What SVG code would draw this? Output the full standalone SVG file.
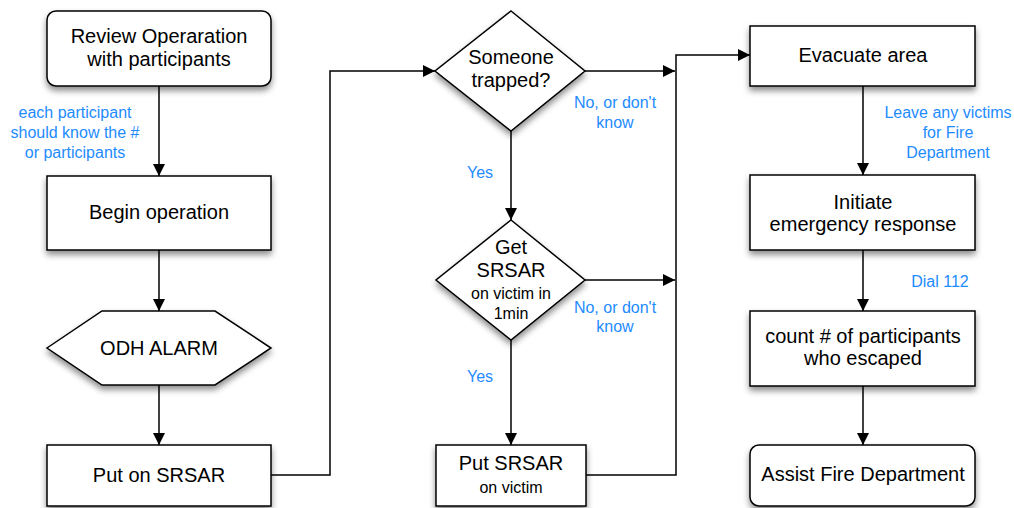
<svg xmlns="http://www.w3.org/2000/svg" width="1014" height="508" viewBox="0 0 1014 508">
<defs>
<filter id="sh" x="-20%" y="-20%" width="140%" height="160%">
<feDropShadow dx="0" dy="4" stdDeviation="3" flood-color="#000" flood-opacity="0.45"/>
</filter>
<marker id="ah" markerWidth="12" markerHeight="12" viewBox="0 0 12 12" refX="12" refY="6" orient="auto" markerUnits="userSpaceOnUse">
<path d="M0,0 L12,6 L0,12 Z" fill="#000"/>
</marker>
</defs>
<style>
.n{fill:#fff;stroke:#000;stroke-width:1.5;filter:url(#sh)}
.t{font-family:"Liberation Sans",Arial,sans-serif;font-size:20px;fill:#000;text-anchor:middle}
.s{font-size:16px}
.l{font-family:"Liberation Sans",Arial,sans-serif;font-size:16px;fill:#1E8BFF;text-anchor:middle}
.c{fill:none;stroke:#000;stroke-width:1.5}
</style>
<rect width="1014" height="508" fill="#fff"/>
<g id="connectors">
<path class="c" d="M159,86 V176" marker-end="url(#ah)"/>
<path class="c" d="M159,250 V311" marker-end="url(#ah)"/>
<path class="c" d="M159,385 V445" marker-end="url(#ah)"/>
<path class="c" d="M271,475 H330 V71 H435" marker-end="url(#ah)"/>
<path class="c" d="M585,71 H675" marker-end="url(#ah)"/>
<path class="c" d="M511,131 V220" marker-end="url(#ah)"/>
<path class="c" d="M585,280 H675" marker-end="url(#ah)"/>
<path class="c" d="M511,340 V445" marker-end="url(#ah)"/>
<path class="c" d="M586,475 H676 V55 H750" marker-end="url(#ah)"/>
<path class="c" d="M863,86 V175" marker-end="url(#ah)"/>
<path class="c" d="M863,250 V311" marker-end="url(#ah)"/>
<path class="c" d="M863,386 V445" marker-end="url(#ah)"/>
</g>
<g id="labels">
<rect x="4" y="101" width="142" height="60" fill="#fff"/>
<text class="l" x="75" y="118">each participant</text>
<text class="l" x="75" y="138">should know the #</text>
<text class="l" x="75" y="158">or participants</text>
<rect x="568" y="90" width="94" height="40" fill="#fff"/>
<text class="l" x="615" y="108">No, or don't</text>
<text class="l" x="615" y="128">know</text>
<text class="l" x="480" y="178">Yes</text>
<rect x="568" y="295" width="94" height="40" fill="#fff"/>
<text class="l" x="615" y="313">No, or don't</text>
<text class="l" x="615" y="332">know</text>
<text class="l" x="480" y="382">Yes</text>
<rect x="878" y="100" width="134" height="60" fill="#fff"/>
<text class="l" x="948" y="118">Leave any victims</text>
<text class="l" x="948" y="138">for Fire</text>
<text class="l" x="948" y="158">Department</text>
<text class="l" x="940" y="287">Dial 112</text>
</g>
<g id="review">
<rect class="n" x="47" y="11" width="224" height="75" rx="9"/>
<text class="t" x="159" y="43">Review Operaration</text>
<text class="t" x="159" y="66">with participants</text>
</g>
<g id="begin">
<rect class="n" x="47" y="176" width="224" height="74"/>
<text class="t" x="159" y="219">Begin operation</text>
</g>
<g id="alarm">
<polygon class="n" points="47,348 102,311 215,311 271,348 215,385 102,385"/>
<text class="t" x="159" y="355">ODH ALARM</text>
</g>
<g id="puton">
<rect class="n" x="47" y="445" width="224" height="61"/>
<text class="t" x="159" y="482">Put on SRSAR</text>
</g>
<g id="trapped">
<polygon class="n" points="511,11 585,71 511,131 435,71"/>
<text class="t" x="511" y="64">Someone</text>
<text class="t" x="511" y="87">trapped?</text>
</g>
<g id="get">
<polygon class="n" points="511,220 585,280 511,340 436,280"/>
<text class="t" x="511" y="254">Get</text>
<text class="t" x="511" y="277">SRSAR</text>
<text class="t s" x="511" y="299">on victim in</text>
<text class="t s" x="511" y="319">1min</text>
</g>
<g id="putvictim">
<rect class="n" x="436" y="445" width="150" height="61"/>
<text class="t" x="511" y="470">Put SRSAR</text>
<text class="t s" x="511" y="493">on victim</text>
</g>
<g id="evacuate">
<rect class="n" x="750" y="26" width="225" height="60"/>
<text class="t" x="863" y="62">Evacuate area</text>
</g>
<g id="initiate">
<rect class="n" x="750" y="175" width="225" height="75"/>
<text class="t" x="863" y="209">Initiate</text>
<text class="t" x="863" y="231">emergency response</text>
</g>
<g id="count">
<rect class="n" x="750" y="311" width="225" height="75"/>
<text class="t" x="863" y="343">count # of participants</text>
<text class="t" x="863" y="365">who escaped</text>
</g>
<g id="assist">
<rect class="n" x="750" y="445" width="225" height="61" rx="9"/>
<text class="t" x="863" y="481">Assist Fire Department</text>
</g>
</svg>
